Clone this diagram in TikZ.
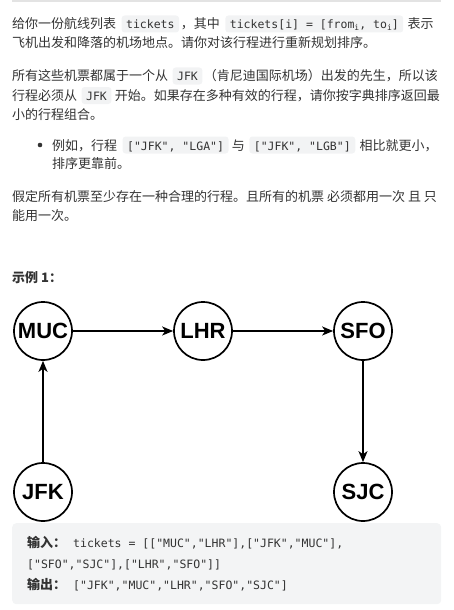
\documentclass[tikz,border=0pt]{standalone}
\usepackage{fontspec}
\setmainfont{Noto Sans CJK SC}
\newfontfamily\monof{DejaVu Sans Mono}
\newfontfamily\nodef{Liberation Sans}
\usetikzlibrary{arrows.meta}
\definecolor{txtc}{HTML}{333333}
\definecolor{codebg}{HTML}{F2F3F4}
\definecolor{boxbg}{HTML}{F3F4F5}
\definecolor{rulec}{HTML}{E3E3E3}
\newcommand\subi{\raisebox{-2pt}{\fontsize{8}{8}\selectfont i}}
\begin{document}
\begin{tikzpicture}[x=1pt,y=-1pt,
  txt/.style={anchor=base west, inner sep=0pt, text=txtc, font=\fontsize{13}{13}\selectfont},
  icode/.style={anchor=base west, fill=codebg, rounded corners=3pt, inner xsep=4.5pt, inner ysep=0.5pt,
    text height=13pt, text depth=3pt, text=txtc, font=\monof\fontsize{11.5}{11.5}\selectfont},
  ctxt/.style={anchor=base west, inner sep=0pt, text=txtc, font=\bfseries\fontsize{13}{13}\selectfont},
  mono/.style={anchor=base west, inner sep=0pt, text=txtc, font=\monof\fontsize{11.5}{11.5}\selectfont},
  apt/.style={circle, draw=black, line width=1.7pt, fill=white, minimum size=58pt, inner sep=0pt,
    font=\nodef\bfseries\fontsize{22}{22}\selectfont},
  conn/.style={line width=1.6pt, -{Stealth[length=11pt,width=9pt,inset=3pt]}}
]
\useasboundingbox (0,0) rectangle (454,610);
\draw[rulec, line width=1.6pt] (12,1) -- (441,1);

% paragraph 1
\node[txt] (a1) at (12,29) {给你一份航线列表};
\node[icode] (a2) at ([xshift=5pt]a1.base east) {tickets};
\node[txt] (a3) at ([xshift=1.5pt]a2.base east) {，其中};
\node[icode] (a4) at ([xshift=5pt]a3.base east) {tickets[i] = [from\subi, to\subi]};
\node[txt] (a5) at ([xshift=4pt]a4.base east) {表示};
\node[txt] (b1) at (12,47.5) {飞机出发和降落的机场地点。请你对该行程进行重新规划排序。};

% paragraph 2
\node[txt] (c1) at (12,81) {所有这些机票都属于一个从};
\node[icode] (c2) at ([xshift=4pt]c1.base east) {JFK};
\node[txt] (c3) at ([xshift=1pt]c2.base east) {（肯尼迪国际机场）出发的先生，所以该};
\node[txt] (d1) at (12,100.5) {行程必须从};
\node[icode] (d2) at ([xshift=4pt]d1.base east) {JFK};
\node[txt] (d3) at ([xshift=3pt]d2.base east) {开始。如果存在多种有效的行程，请你按字典排序返回最};
\node[txt] (e1) at (12,119) {小的行程组合。};

% bullet
\fill[txtc] (40,145) circle (2.3pt);
\node[txt] (f1) at (52,150) {例如，行程};
\node[icode] (f2) at ([xshift=5pt]f1.base east) {["JFK", "LGA"]};
\node[txt] (f3) at ([xshift=3pt]f2.base east) {与};
\node[icode] (f4) at ([xshift=4pt]f3.base east) {["JFK", "LGB"]};
\node[txt] (f5) at ([xshift=4pt]f4.base east) {相比就更小，};
\node[txt] (g1) at (52,168.5) {排序更靠前。};

% paragraph 3
\node[txt] (h1) at (12,201.5) {假定所有机票至少存在一种合理的行程。且所有的机票 必须都用一次 且 只};
\node[txt] (i1) at (12,220.5) {能用一次。};

\node[ctxt] (ex) at (12,282.5) {示例 1：};

% graph
\node[apt] (MUC) at (43,331) {MUC};
\node[apt] (LHR) at (203,331) {LHR};
\node[apt] (SFO) at (363,331) {SFO};
\node[apt] (JFK) at (43,492) {JFK};
\node[apt] (SJC) at (363,492) {SJC};
\draw[conn] (JFK) -- (MUC);
\draw[conn] (MUC) -- (LHR);
\draw[conn] (LHR) -- (SFO);
\draw[conn] (SFO) -- (SJC);

% code box
\node[fill=boxbg, rounded corners=4pt, minimum width=429pt, minimum height=81pt, anchor=north west, inner sep=0pt] (box) at (12,523) {};
\node[ctxt] (k1) at (27,547) {输入：};
\node[mono] (k2) at (73,547) {tickets = [["MUC","LHR"],["JFK","MUC"],};
\node[mono] (k3) at (27,568) {["SFO","SJC"],["LHR","SFO"]]};
\node[ctxt] (k4) at (27,589) {输出：};
\node[mono] (k5) at (73,589) {["JFK","MUC","LHR","SFO","SJC"]};
\end{tikzpicture}
\end{document}
